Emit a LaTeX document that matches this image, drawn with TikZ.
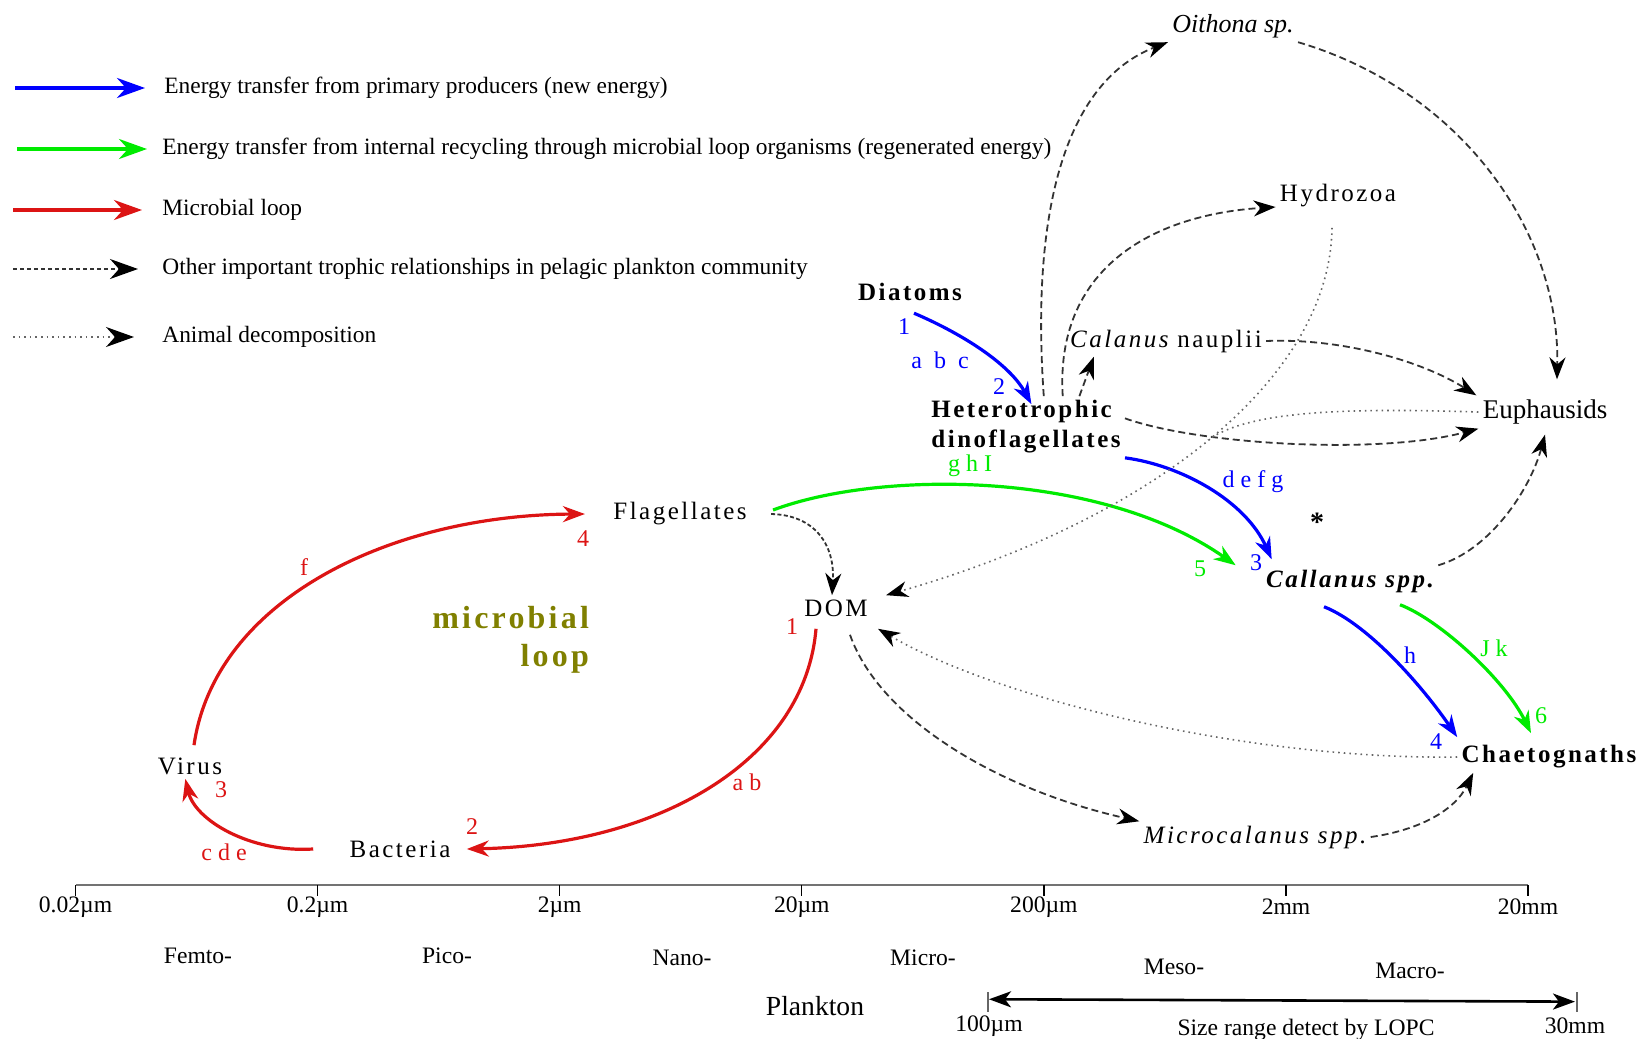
\documentclass[tikz,border=0pt]{standalone}
\usepackage{fontspec}
\setmainfont{Liberation Serif}
\newfontfamily\spacedfont[LetterSpace=10]{Liberation Serif}
\usetikzlibrary{arrows.meta}
\definecolor{newblue}{RGB}{0,0,255}
\definecolor{regengreen}{RGB}{0,235,0}
\definecolor{loopred}{RGB}{220,20,20}
\definecolor{loopolive}{RGB}{128,128,0}

\tikzset{
  taxon/.style={font=\spacedfont\fontsize{12.5}{15}\selectfont, inner sep=2pt},
  plainname/.style={font=\fontsize{13.5}{16}\selectfont, inner sep=2pt},
  legtext/.style={font=\fontsize{11.7}{14}\selectfont, anchor=west, inner sep=0pt},
  flowlbl/.style={font=\fontsize{12}{14}\selectfont, inner sep=0pt},
  scalelbl/.style={font=\fontsize{11.8}{14}\selectfont, inner sep=2pt},
  flowtip/.style={-{Stealth[length=11pt,width=8pt,inset=3.5pt]}},
  legarrow/.style={-{Stealth[length=14pt,width=10pt,inset=4.5pt]}},
  legarrowk/.style={-{Stealth[length=14pt,width=10pt,inset=4.5pt,black]}},
  newflow/.style={flowtip, newblue, line width=1.6pt},
  regenflow/.style={flowtip, regengreen, line width=1.6pt},
  loopflow/.style={flowtip, loopred, line width=1.6pt},
  trophic/.style={-{Stealth[length=11pt,width=8pt,inset=3.5pt,black]}, black!80, line width=0.9pt, dash pattern=on 3.5pt off 2pt},
  decomp/.style={-{Stealth[length=11pt,width=8pt,inset=3.5pt,black]}, black!60, line width=0.8pt, dash pattern=on 0.8pt off 2pt},
}

\begin{document}
\begin{tikzpicture}[x=0.5pt,y=-0.5pt]
	\useasboundingbox (0,0) rectangle (1645,1039);

	% Legend
	\draw[newblue, line width=1.8pt, legarrow] (15,88) -- (145,88);
	\node[legtext] (legnew) at (164,88) {Energy transfer from primary producers (new energy)};
	\draw[regengreen, line width=1.8pt, legarrow] (17,149) -- (147,149);
	\node[legtext] (legregen) at (162,149) {Energy transfer from internal recycling through microbial loop organisms (regenerated energy)};
	\draw[loopred, line width=1.8pt, legarrow] (13,210) -- (142,210);
	\node[legtext] (legloop) at (162,210) {Microbial loop};
	\draw[black!80, line width=0.9pt, dash pattern=on 2pt off 1.5pt, legarrowk] (13,269) -- (138,269);
	\node[legtext] (legtroph) at (162,269) {Other important trophic relationships in pelagic plankton community};
	\draw[black!60, line width=0.8pt, dash pattern=on 0.8pt off 2pt, legarrowk] (13,337) -- (134,337);
	\node[legtext] (legdecomp) at (162,337) {Animal decomposition};

	% Organisms
	\node[font=\itshape\fontsize{13}{15}\selectfont, inner sep=2pt] (oithona) at (1233,26) {Oithona sp.};
	\node[taxon] (hydrozoa) at (1338,196) {Hydrozoa};
	\node[taxon] (diatoms) at (910,292) {\bfseries Diatoms};
	\node[taxon] (nauplii) at (1166,341) {\itshape Calanus\upshape{} nauplii};
	\node[taxon, anchor=west, align=left] (hetero) at (927,427) {\bfseries Heterotrophic\\\bfseries dinoflagellates};
	\node[plainname] (euph) at (1545,412) {Euphausids};
	\node[taxon] (flag) at (680,514) {Flagellates};
	\node[taxon] (dom) at (836,608) {DOM};
	\node[taxon] (callanus) at (1350,581) {\bfseries\itshape Callanus spp.};
	\node[taxon] (chaeto) at (1549,757) {\bfseries Chaetognaths};
	\node[taxon] (microcal) at (1255,837) {\itshape Microcalanus spp.};
	\node[taxon] (virus) at (190,766) {Virus};
	\node[taxon] (bact) at (400,849) {Bacteria};
	\node[font=\bfseries\fontsize{14}{14}\selectfont] (star) at (1317,522) {*};
	\node[font=\spacedfont\bfseries\fontsize{16}{19}\selectfont, text=loopolive, align=right, anchor=east] (looplbl) at (596,640) {microbial\\loop};

	% Microbial loop
	\draw[loopflow] ([shift={(-10pt,-4pt)}]dom.south) .. controls (805,760) and (660,845) .. ([xshift=6pt]bact.east);
	\draw[loopflow] ([xshift=-16pt]bact.west) .. controls (250,853) and (195,820) .. (virus.-110);
	\draw[loopflow] ([shift={(2pt,4pt)}]virus.north) .. controls (215,600) and (390,515) .. ([xshift=-12pt]flag.west);
	\node[flowlbl, loopred] (rone) at (792,627) {1};
	\node[flowlbl, loopred] (rab) at (747,782) {a b};
	\node[flowlbl, loopred] (rtwo) at (472,827) {2};
	\node[flowlbl, loopred] (rcde) at (224,852) {c d e};
	\node[flowlbl, loopred] (rthree) at (221,790) {3};
	\node[flowlbl, loopred] (rf) at (304,567) {f};
	\node[flowlbl, loopred] (rfour) at (583,539) {4};

	% New energy
	\draw[newflow] ([shift={(2pt,-4pt)}]diatoms.south) .. controls (965,335) and (1010,365) .. ([yshift=-4pt]hetero.80);
	\draw[newflow] (hetero.south east) .. controls (1180,465) and (1245,500) .. ([shift={(5pt,3pt)}]callanus.north west);
	\draw[newflow] ([shift={(-13pt,-5pt)}]callanus.south) .. controls (1370,625) and (1425,690) .. ([yshift=2pt]chaeto.north west);
	\node[flowlbl, newblue] (bone) at (904,327) {1};
	\node[flowlbl, newblue] (babc) at (940,360) {a\enspace b\enspace c};
	\node[flowlbl, newblue] (btwo) at (999,387) {2};
	\node[flowlbl, newblue] (bdefg) at (1253,482) {d e f g};
	\node[flowlbl, newblue] (bthree) at (1256,563) {3};
	\node[flowlbl, newblue] (bh) at (1410,655) {h};
	\node[flowlbl, newblue] (bfour) at (1436,742) {4};

	% Regenerated energy
	\draw[regenflow] ([shift={(11pt,2pt)}]flag.east) .. controls (880,470) and (1100,470) .. ([xshift=-13pt]callanus.north west);
	\draw[regenflow] ([shift={(25pt,-4pt)}]callanus.south) .. controls (1440,620) and (1505,680) .. ([shift={(-9pt,4pt)}]chaeto.north);
	\node[flowlbl, regengreen] (gghi) at (970,466) {g h I};
	\node[flowlbl, regengreen] (gfive) at (1200,569) {5};
	\node[flowlbl, regengreen] (gjk) at (1494,648) {J k};
	\node[flowlbl, regengreen] (gsix) at (1541,716) {6};

	% Other trophic links
	\draw[trophic] (hetero.60) .. controls (1030,200) and (1070,80) .. (oithona.south west);
	\draw[trophic] (oithona.south east) .. controls (1460,90) and (1560,230) .. ([shift={(6pt,8pt)}]euph.north);
	\draw[trophic] (hetero.40) .. controls (1055,270) and (1150,215) .. (hydrozoa.-170);
	\draw[trophic] (hetero.30) -- ([xshift=14pt]nauplii.south west);
	\draw[trophic] (nauplii.east) .. controls (1340,338) and (1420,360) .. ([xshift=-1pt]euph.north west);
	\draw[trophic] (hetero.5) .. controls (1200,445) and (1380,455) .. (euph.south west);
	\draw[trophic] (callanus.north east) .. controls (1490,550) and (1530,490) .. ([yshift=-3pt]euph.south);
	\draw[trophic, dash pattern=on 2pt off 1.2pt] ([xshift=10pt]flag.east) .. controls (815,515) and (835,545) .. ([xshift=-2pt]dom.north);
	\draw[trophic] ([shift={(7pt,-7pt)}]dom.south) .. controls (880,720) and (1000,790) .. (microcal.north west);
	\draw[trophic] (microcal.east) .. controls (1420,830) and (1455,810) .. ([xshift=8pt]chaeto.south west);

	% Decomposition
	\coordinate (decompjoin) at (1208,440);
	\draw[decomp] ([shift={(-3pt,-8pt)}]hydrozoa.south) .. controls (1330,380) and (1150,520) .. ([xshift=7pt]dom.north east);
	\draw[decomp, -] (euph.west) .. controls (1350,408) and (1250,410) .. (decompjoin);
	\draw[decomp] (chaeto.west) .. controls (1250,760) and (1000,700) .. ([shift={(3pt,-4pt)}]dom.south east);

	% Size scale
	\draw[black!55, line width=1.2pt] (75.5,885) -- (1528,885);
	\foreach \x/\lab [count=\i] in {75.5/0.02µm, 317.6/0.2µm, 559.7/2µm, 801.8/20µm, 1043.9/200µm, 1286/2mm, 1528/20mm} {
		\draw[line width=0.6pt] (\x,885) -- (\x,896);
		\node[scalelbl] (tick\i) at (\x,907) {\lab};
	}
	\foreach \x/\y/\lab [count=\i] in {198/956/Femto-, 447/956/Pico-, 682/958/Nano-, 923/958/Micro-, 1174/967/Meso-, 1410/971/Macro-} {
		\node[scalelbl] (class\i) at (\x,\y) {\lab};
	}
	\node[font=\fontsize{13.8}{16}\selectfont] (plankton) at (815,1006) {Plankton};

	% LOPC range
	\node[scalelbl] (lopclo) at (989,1026) {100µm};
	\node[scalelbl] (lopchi) at (1575,1026) {30mm};
	\node[scalelbl] (lopc) at (1306,1030) {Size range detect by LOPC};
	\draw[black!60, line width=0.8pt] (988,992) -- (988,1012);
	\draw[black!60, line width=0.8pt] (1577,992) -- (1577,1012);
	\draw[line width=1.3pt, {Stealth[length=11pt,width=8pt,inset=3pt]}-{Stealth[length=11pt,width=8pt,inset=3pt]}] ([yshift=6pt]lopclo.north) -- ([yshift=6pt]lopchi.north);

\end{tikzpicture}
\end{document}
